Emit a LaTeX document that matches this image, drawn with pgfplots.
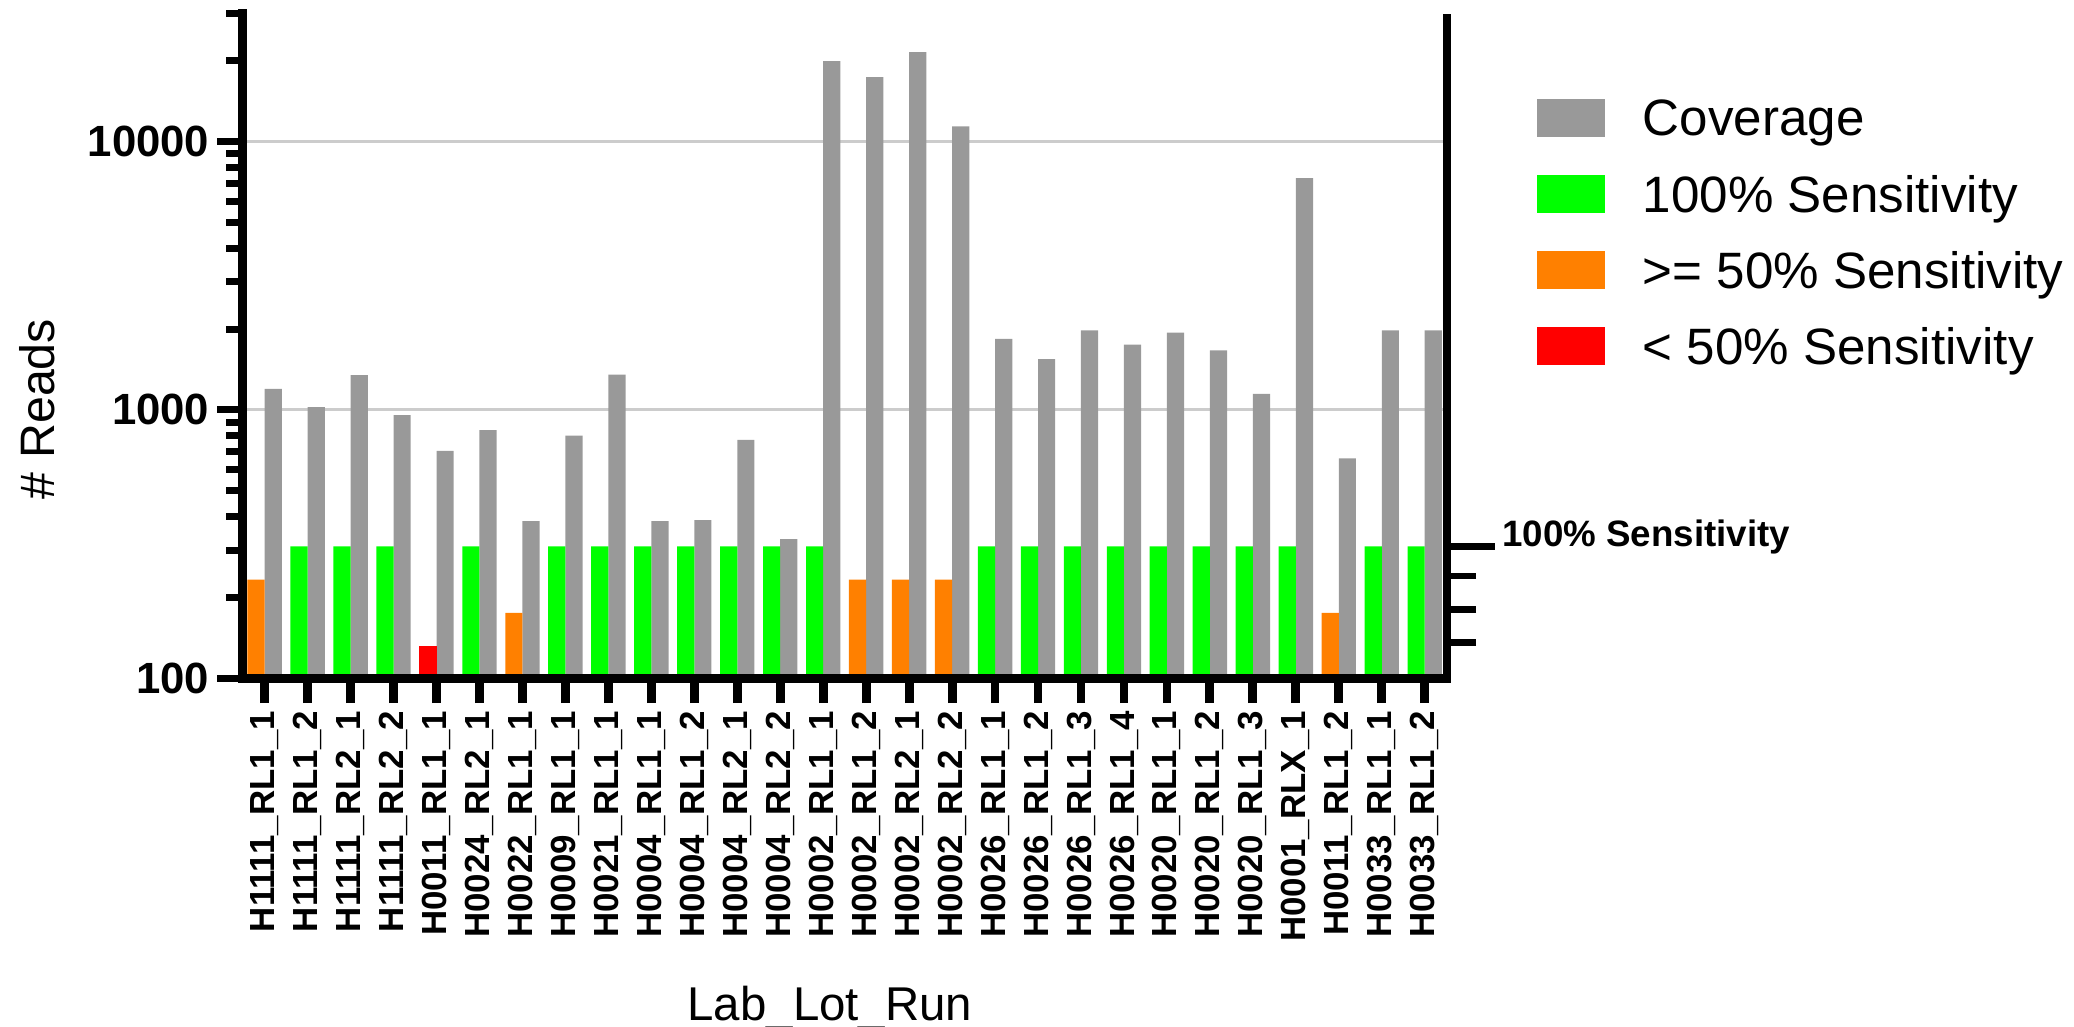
\documentclass[border=0pt]{standalone}
\usepackage{fontspec}
\setmainfont{Liberation Sans}
\usepackage{pgfplots}
\pgfplotsset{compat=1.18}
\usepackage{pgfplotstable}

\definecolor{covgray}{RGB}{153,153,153}
\definecolor{sgreen}{RGB}{0,255,0}
\definecolor{sorange}{RGB}{255,128,0}
\definecolor{sred}{RGB}{255,0,0}
\definecolor{gridgray}{RGB}{204,204,204}

\pgfplotsset{sqleg/.style={legend image code/.code={\fill[##1] (0mm,-0.1mm) rectangle (5.1mm,2.8mm);}}}

\pgfplotstableread{
x cov
0 1197
1 1023
2 1348
3 955
4 703
5 841
6 385
7 801
8 1354
9 385
10 388
11 773
12 330
13 19930
14 17400
15 21570
16 11390
17 1839
18 1547
19 1977
20 1750
21 1940
22 1665
23 1148
24 7305
25 659
26 1977
27 1977
}\covtable

\pgfplotstableread{
x val
1 310
2 310
3 310
5 310
7 310
8 310
9 310
10 310
11 310
12 310
13 310
17 310
18 310
19 310
20 310
21 310
22 310
23 310
24 310
26 310
27 310
}\greentable

\pgfplotstableread{
x val
0 233
6 175
14 233
15 233
16 233
25 175
}\orangetable

\pgfplotstableread{
x val
4 132
}\redtable

\begin{document}
\begin{tikzpicture}
\path[use as bounding box] (-18.32mm,-26.33mm) rectangle (138.48mm,51.27mm);

% background grid
\begin{axis}[scale only axis, width=91.08mm, height=50.24mm,
  ymode=log, ymin=100, ymax=30000, xmin=-0.52, xmax=27.52,
  axis line style={draw=none}, xtick=\empty,
  ytick={1000,10000}, yticklabels={}, minor y tick style={draw=none},
  ymajorgrids, major grid style={gridgray, line width=0.7pt},
  major tick length=0pt]
\end{axis}

% main axis with bars
\begin{axis}[scale only axis, width=91.08mm, height=50.24mm,
  ymode=log, ymin=100, ymax=30000, xmin=-0.52, xmax=27.52, log origin=infty,
  axis on top,
  axis x line*=bottom, axis y line*=left,
  axis line style={line width=1.9pt, -, line cap=rect},
  tick align=outside,
  tick style={line width=1.5pt, black},
  xtick style={line width=1.9pt, black},
  major tick length=1.9mm, minor tick length=1.2mm,
  ytick={100,1000,10000}, yticklabels={100,1000,10000},
  minor ytick={200,300,400,500,600,700,800,900,2000,3000,4000,5000,6000,7000,8000,9000,20000,30000},
  yticklabel style={font=\bfseries\fontsize{9.4}{10}\selectfont, inner sep=1.5pt},
  xtick={0,...,27},
  xticklabels={H1111\_RL1\_1,H1111\_RL1\_2,H1111\_RL2\_1,H1111\_RL2\_2,H0011\_RL1\_1,H0024\_RL2\_1,H0022\_RL1\_1,H0009\_RL1\_1,H0021\_RL1\_1,H0004\_RL1\_1,H0004\_RL1\_2,H0004\_RL2\_1,H0004\_RL2\_2,H0002\_RL1\_1,H0002\_RL1\_2,H0002\_RL2\_1,H0002\_RL2\_2,H0026\_RL1\_1,H0026\_RL1\_2,H0026\_RL1\_3,H0026\_RL1\_4,H0020\_RL1\_1,H0020\_RL1\_2,H0020\_RL1\_3,H0001\_RLX\_1,H0011\_RL1\_2,H0033\_RL1\_1,H0033\_RL1\_2},
  xticklabel style={rotate=90, anchor=east, font=\bfseries\fontsize{7.5}{8}\selectfont, inner sep=1.5pt},
  xlabel={Lab\_Lot\_Run},
  xlabel style={at={(axis description cs:0.4878,-0.5147)}, anchor=base, font=\fontsize{10.2}{12}\selectfont},
  ylabel={\# Reads},
  ylabel style={at={(axis description cs:-0.1561,0.405)}, anchor=base, font=\fontsize{10.4}{12}\selectfont},
  legend style={at={(axis description cs:1.0747,0.8736)}, anchor=north west, draw=none, fill=none,
    inner sep=0pt, outer sep=0pt, font=\fontsize{11}{13}\selectfont,
    /tikz/row sep=1.95mm, /tikz/column sep=2.9mm,
    nodes={inner sep=0pt, text height=2.9mm, text depth=0.9mm},
    cells={anchor=base west}},
]
\addplot[ybar, bar width=0.4, draw=none, bar shift=0.2, fill=covgray, sqleg]
  table[x=x, y=cov] {\covtable};
\addlegendentry{Coverage}
\addplot[ybar, bar width=0.4, draw=none, bar shift=-0.2, fill=sgreen, sqleg]
  table[x=x, y=val] {\greentable};
\addlegendentry{100\% Sensitivity}
\addplot[ybar, bar width=0.4, draw=none, bar shift=-0.2, fill=sorange, sqleg]
  table[x=x, y=val] {\orangetable};
\addlegendentry{>= 50\% Sensitivity}
\addplot[ybar, bar width=0.4, draw=none, bar shift=-0.2, fill=sred, sqleg]
  table[x=x, y=val] {\redtable};
\addlegendentry{< 50\% Sensitivity}
\end{axis}

% right axis
\begin{axis}[scale only axis, width=91.08mm, height=50.24mm,
  ymode=log, ymin=100, ymax=30000, xmin=-0.52, xmax=27.52,
  clip=false, axis x line=none, axis y line*=right,
  axis line style={line width=1.9pt, -},
  tick align=outside, tick style={line width=1.4pt, black},
  ytick={136,180,240}, yticklabels={}, minor y tick style={draw=none},
  major tick length=2.2mm,
  extra y ticks={310}, extra y tick labels={}, extra tick style={major tick length=3.6mm}]
\node[anchor=base west, inner sep=0pt, font=\bfseries\fontsize{7.9}{8}\selectfont]
  at (axis cs:27.52,310) [xshift=4.1mm] {100\% Sensitivity};
\end{axis}
\end{tikzpicture}
\end{document}
